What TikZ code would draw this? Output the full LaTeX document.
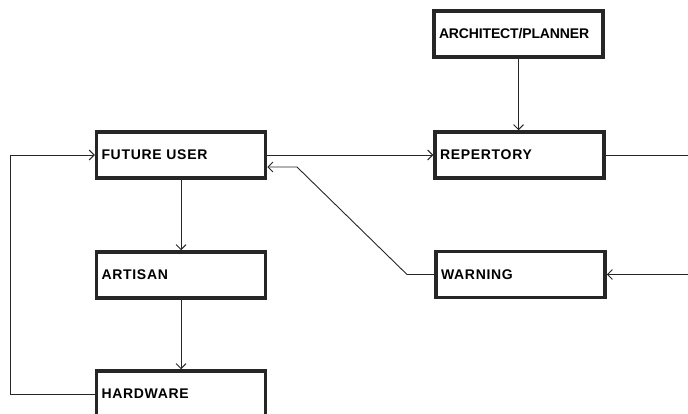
\documentclass[tikz,border=0pt]{standalone}
\usepackage{fontspec}
\setmainfont{Liberation Sans}
\newfontfamily\boxfont[LetterSpace=5]{Liberation Sans}
\newfontfamily\tightfont[LetterSpace=-1]{Liberation Sans}
\usetikzlibrary{arrows.meta}
\begin{document}
\begin{tikzpicture}[x=1pt,y=-1pt,
  blk/.style={draw=black!85, line width=3.5pt, minimum height=46pt, text width=159pt,
    inner xsep=5pt, align=left, font=\boxfont\bfseries\fontsize{14}{16}\selectfont},
  conn/.style={line width=0.9pt, black!85},
  arr/.style={conn, -{Straight Barb[length=5pt,width=10pt]}}]
\useasboundingbox (0,0) rectangle (688,414);
\node[blk] (arch) at (518.5,34) {{\tightfont\bfseries ARCHITECT/PLANNER}};
\node[blk] (rep) at (519.5,155) {REPERTORY};
\node[blk] (fu) at (181,155) {FUTURE USER};
\node[blk] (art) at (181,275) {ARTISAN};
\node[blk] (warn) at (520.5,274.5) {WARNING};
\node[blk] (hw) at (181,394) {HARDWARE};
\coordinate (rout) at (690,155);
\coordinate (win) at (690,274.5);
\coordinate (k1) at (407,273);
\coordinate (k2) at (297,167);
\coordinate (L) at (10,395);
\draw[arr] (arch.south) -- (rep.north -| arch.south);
\draw[arr] (fu.south) -- (art.north);
\draw[arr] (art.south) -- (hw.north);
\draw[arr] (fu.east) -- (rep.west);
\draw[conn] (rep.east) -- (rout);
\draw[arr] (win) -- (warn.east);
\draw[arr] (warn.west) -- (warn.west -| k1) -- (k2) -- (fu.east |- k2);
\draw[arr] (hw.west) -- (hw.west -| L) -- (L |- fu.west) -- (fu.west);
\end{tikzpicture}
\end{document}
